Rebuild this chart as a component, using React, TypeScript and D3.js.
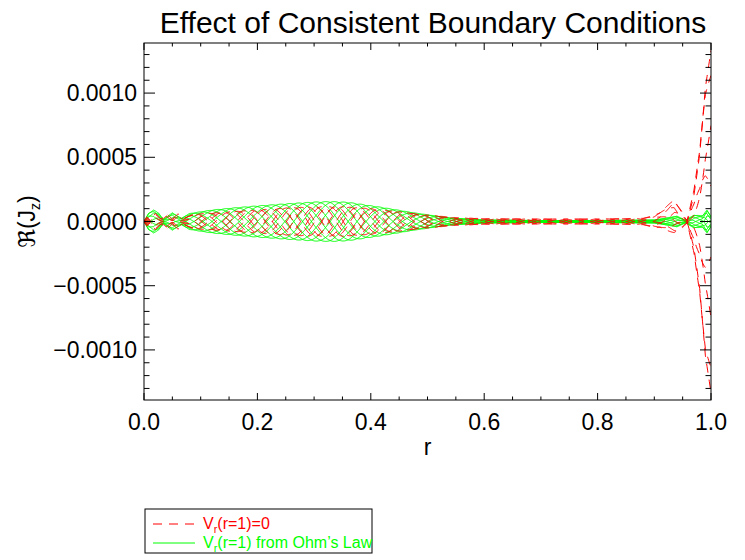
import React from "react";
import * as d3 from "d3";

const W = 745;
const H = 560;
const PLOT = { left: 144, right: 711, top: 43, bottom: 400 };
const FONT = "'Liberation Sans', Arial, Helvetica, 'DejaVu Sans', sans-serif";

// axis ticks
const xMajorTicks = [0, 0.2, 0.4, 0.6, 0.8, 1.0];
const yMajorTicks = [-0.001, -0.0005, 0, 0.0005, 0.001];
const yDomain = [-0.00139, 0.00139];
const ampUnit = 1e-4;

// green: V_r(r=1) from Ohm's Law  (envelope in units of 1e-4, phase in cycles)
const greenKnots = [0, 0.008, 0.017, 0.026, 0.034, 0.05, 0.066, 0.08, 0.12, 0.16, 0.2, 0.25, 0.3, 0.33, 0.36, 0.42, 0.48, 0.54, 0.6, 0.7, 0.8, 0.9, 0.925, 0.94, 0.955, 0.97, 0.985, 0.993, 1.0];
const greenEnvelope = [0, 0.65, 0.9, 0.65, 0.15, 0.68, 0.25, 0.62, 0.9, 1.07, 1.22, 1.38, 1.52, 1.56, 1.5, 1.1, 0.65, 0.28, 0.12, 0.08, 0.08, 0.12, 0.3, 0.42, 0.1, 0.5, 0.45, 0.9, 0.4];
const greenCycles = [0, 0.04, 0.08, 0.12, 0.15, 0.22, 0.3, 0.4, 0.65, 0.9, 1.15, 1.46, 1.78, 1.96, 2.15, 2.53, 2.9, 3.28, 3.65, 4.28, 4.9, 5.53, 5.68, 5.78, 5.83, 5.93, 6.03, 6.13, 6.18];
const greenSnapshots = [0, 0.1, 0.2, 0.3, 0.4, 0.5, 0.6, 0.7, 0.8, 0.9];

// red: V_r(r=1)=0
const redKnots = [0, 0.005, 0.011, 0.02, 0.03, 0.04, 0.05, 0.06, 0.07, 0.085, 0.1, 0.15, 0.2, 0.25, 0.3, 0.35, 0.4, 0.45, 0.5, 0.55, 0.6, 0.7, 0.8, 0.88, 0.91, 0.935, 0.948, 0.958, 0.97, 0.98, 0.99, 1.0];
const redEnvelope = [0, 0.35, 0.1, 0.65, 0.2, 0.6, 0.2, 0.6, 0.25, 0.55, 0.6, 0.75, 0.9, 1.05, 1.15, 1.15, 1.0, 0.75, 0.5, 0.3, 0.22, 0.2, 0.2, 0.25, 0.6, 1.3, 0.7, 0.05, 2.5, 5.8, 11.0, 13.6];
const redCycles = [0, 0.02, 0.05, 0.1, 0.15, 0.2, 0.25, 0.3, 0.35, 0.4, 0.55, 1.05, 1.55, 2.05, 2.55, 3.05, 3.55, 4.05, 4.55, 5.05, 5.55, 6.55, 7.55, 8.35, 8.5, 8.6, 8.65, 8.7, 8.72, 8.74, 8.76, 8.78];
const redOffsetKnots = [0, 0.9, 0.935, 0.955, 1.0];
const redOffset = [0, 0, 0.4, 0, 0];
const redSnapshots = [0.0625, 0.1875, 0.3125, 0.4375, 0.5625, 0.6875, 0.8125, 0.9375];

const legendItems = [
  { label: "(r=1)=0", color: "#ff0000", dashed: true },
  { label: "(r=1) from Ohm\u2019s Law", color: "#00ff00", dashed: false },
];

function buildCurves(knots: number[], env: number[], cyc: number[], snaps: number[], offKnots?: number[], off?: number[]) {
  const envS = d3.scaleLinear().domain(knots).range(env).clamp(true);
  const cycS = d3.scaleLinear().domain(knots).range(cyc).clamp(true);
  const offS: (r: number) => number =
    offKnots && off ? (d3.scaleLinear().domain(offKnots).range(off).clamp(true) as any) : () => 0;
  const rs = d3.range(0, 1.0000001, 0.001);
  return snaps.map((ph) =>
    rs.map((r) => [r, ampUnit * (envS(r) * Math.cos(2 * Math.PI * (cycS(r) + ph)) + offS(r))] as [number, number])
  );
}

export default function App() {
  const x = d3.scaleLinear().domain([0, 1]).range([PLOT.left, PLOT.right]);
  const y = d3.scaleLinear().domain(yDomain).range([PLOT.bottom, PLOT.top]);
  const line = d3
    .line<[number, number]>()
    .x((d) => x(d[0]))
    .y((d) => y(d[1]));

  const greenCurves = buildCurves(greenKnots, greenEnvelope, greenCycles, greenSnapshots);
  const redCurves = buildCurves(redKnots, redEnvelope, redCycles, redSnapshots, redOffsetKnots, redOffset);

  const xMinor = d3.range(0, 1.0001, 0.05);
  const yMinor = d3.range(-13, 14).map((k) => k * 1e-4);
  const fmtY = d3.format(".4f");
  const fmtX = d3.format(".1f");

  const xMajLen = 7, xMinLen = 3.5, yMajLen = 11, yMinLen = 5.5;

  return (
    <svg width={W} height={H} style={{ position: "absolute", left: 0, top: 0, background: "#fff" }} fontFamily={FONT}>
      <rect x={0} y={0} width={W} height={H} fill="#fff" />
      <defs>
        <clipPath id="plotclip">
          <rect x={PLOT.left} y={PLOT.top} width={PLOT.right - PLOT.left} height={PLOT.bottom - PLOT.top} />
        </clipPath>
      </defs>

      <text x={433} y={33} fontSize={30} textAnchor="middle" fill="#000">
        Effect of Consistent Boundary Conditions
      </text>

      <g clipPath="url(#plotclip)" fill="none">
        {greenCurves.map((c, i) => (
          <path key={"g" + i} d={line(c) || ""} stroke="#00ff00" strokeWidth={1} />
        ))}
        {redCurves.map((c, i) => (
          <path key={"r" + i} d={line(c) || ""} stroke="#ff0000" strokeWidth={1} strokeDasharray="9,7" />
        ))}
      </g>

      {/* frame */}
      <rect x={PLOT.left} y={PLOT.top} width={PLOT.right - PLOT.left} height={PLOT.bottom - PLOT.top} fill="none" stroke="#000" strokeWidth={1} />

      {/* ticks */}
      <g stroke="#000" strokeWidth={1}>
        {xMinor.map((v, i) => {
          const isMaj = xMajorTicks.some((m) => Math.abs(m - v) < 1e-9);
          const len = isMaj ? xMajLen : xMinLen;
          return (
            <g key={"xt" + i}>
              <line x1={x(v)} x2={x(v)} y1={PLOT.bottom} y2={PLOT.bottom - len} />
              <line x1={x(v)} x2={x(v)} y1={PLOT.top} y2={PLOT.top + len} />
            </g>
          );
        })}
        {yMinor.map((v, i) => {
          const isMaj = yMajorTicks.some((m) => Math.abs(m - v) < 1e-12);
          const len = isMaj ? yMajLen : yMinLen;
          return (
            <g key={"yt" + i}>
              <line x1={PLOT.left} x2={PLOT.left + len} y1={y(v)} y2={y(v)} />
              <line x1={PLOT.right} x2={PLOT.right - len} y1={y(v)} y2={y(v)} />
            </g>
          );
        })}
      </g>

      {xMajorTicks.map((v, i) => (
        <text key={"xl" + i} x={x(v)} y={430} fontSize={23} textAnchor="middle" fill="#000">
          {fmtX(v)}
        </text>
      ))}
      {yMajorTicks.map((v, i) => (
        <text key={"yl" + i} x={137} y={y(v) + 8} fontSize={23} textAnchor="end" fill="#000">
          {fmtY(v)}
        </text>
      ))}

      <text x={427.5} y={455} fontSize={23} textAnchor="middle" fill="#000">r</text>

      <text transform={`translate(35,${y(0)}) rotate(-90)`} fontSize={23} textAnchor="middle" fill="#000">
        {"\u211C(J"}
        <tspan fontSize={14} dy={5}>z</tspan>
        <tspan dy={-5}>)</tspan>
      </text>

      {/* legend */}
      <rect x={145} y={509} width={227} height={44} fill="#fff" stroke="#000" strokeWidth={1} />
      {legendItems.map((it, i) => {
        const ly = 524 + i * 19;
        return (
          <g key={"lg" + i}>
            <line x1={153} x2={195} y1={ly} y2={ly} stroke={it.color} strokeWidth={1} strokeDasharray={it.dashed ? "9,7" : undefined} />
            <text x={203} y={ly + 4.5} fontSize={16} fill={it.color}>
              V<tspan fontSize={11} dy={4}>r</tspan>
              <tspan dy={-4}>{it.label}</tspan>
            </text>
          </g>
        );
      })}
    </svg>
  );
}
